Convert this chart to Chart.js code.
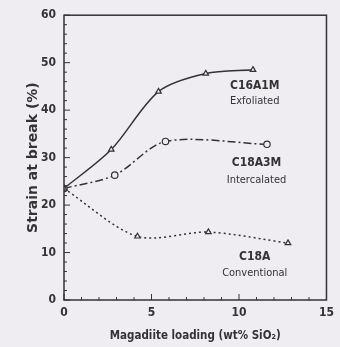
<!DOCTYPE html>
<html>
<head>
<meta charset="utf-8">
<script src="https://cdn.jsdelivr.net/npm/chart.js@4"></script>
<style>
  html, body { margin: 0; padding: 0; background: #efedf1; }
  #wrap { width: 340px; height: 347px; }
</style>
</head>
<body>
<div id="wrap"><canvas id="c"></canvas></div>
<script>
// data
const exfX = [0, 2.7, 5.4, 8.1, 10.8];
const exfY = [23.5, 31.7, 43.9, 47.7, 48.5];
const intX = [0, 2.9, 5.8, 11.6];
const intY = [23.5, 26.3, 33.4, 32.8];
const convX = [0, 4.2, 8.25, 12.8];
const convY = [23.5, 13.4, 14.3, 12.0];

const xTicks = [0, 5, 10, 15];
const yTicks = [0, 10, 20, 30, 40, 50, 60];

const notes = [
  { x: 10.9, y: 45.2, text: "C16A1M" },
  { x: 10.9, y: 41.8, text: "Exfoliated" },
  { x: 11.0, y: 28.8, text: "C18A3M" },
  { x: 11.0, y: 25.2, text: "Intercalated" },
  { x: 10.9, y: 9.0, text: "C18A" },
  { x: 10.9, y: 5.7, text: "Conventional" }
];

const FONT = "'DejaVu Sans Condensed', 'Liberation Sans', sans-serif";
const INK = "#333333";

const pts = (xs, ys) => xs.map((x, i) => ({ x, y: ys[i] }));

function series(label, xs, ys, style, dash) {
  return {
    label,
    data: pts(xs, ys),
    borderColor: INK,
    borderWidth: 1.5,
    borderDash: dash,
    tension: 0.3,
    pointStyle: style,
    pointRadius: 3.2,
    pointBorderWidth: 1.2,
    pointBorderColor: INK,
    pointBackgroundColor: "#efedf1",
    fill: false
  };
}

// box + minor ticks + curve labels
const decor = {
  id: "decor",
  afterDraw(chart) {
    const { ctx, chartArea: a, scales: { x, y } } = chart;
    ctx.save();
    ctx.strokeStyle = INK;
    ctx.lineWidth = 1.5;
    ctx.strokeRect(a.left, a.top, a.right - a.left, a.bottom - a.top);
    ctx.lineWidth = 1;
    for (let v = 0; v <= 60; v += 2) {
      const p = y.getPixelForValue(v);
      const len = v % 10 === 0 ? 6 : 3;
      ctx.beginPath(); ctx.moveTo(a.left, p); ctx.lineTo(a.left + len, p); ctx.stroke();
    }
    for (let v = 0; v <= 15; v += 1) {
      const p = x.getPixelForValue(v);
      const len = v % 5 === 0 ? 6 : 3;
      ctx.beginPath(); ctx.moveTo(p, a.bottom); ctx.lineTo(p, a.bottom - len); ctx.stroke();
    }
    ctx.fillStyle = INK;
    ctx.textAlign = "center";
    ctx.textBaseline = "middle";
    notes.forEach(n => {
      ctx.font = (n.text.startsWith("C1") ? "bold 12px " : "11px ") + FONT;
      ctx.fillText(n.text, x.getPixelForValue(n.x), y.getPixelForValue(n.y));
    });
    ctx.restore();
  }
};

new Chart(document.getElementById("c"), {
  type: "line",
  data: {
    datasets: [
      series("C16A1M", exfX, exfY, "triangle", []),
      series("C18A3M", intX, intY, "circle", [8, 3, 2, 3]),
      series("C18A", convX, convY, "triangle", [2, 3])
    ]
  },
  options: {
    responsive: true,
    maintainAspectRatio: false,
    animation: false,
    layout: { padding: { left: 0, right: 3, top: 13, bottom: 0 } },
    plugins: { legend: { display: false }, tooltip: { enabled: false } },
    scales: {
      x: {
        type: "linear",
        min: 0, max: 15,
        afterBuildTicks: s => { s.ticks = xTicks.map(v => ({ value: v })); },
        afterFit: s => { s.height = 47; },
        grid: { display: false, drawTicks: false },
        border: { display: false },
        ticks: { color: INK, padding: 6, font: { family: FONT, size: 12, weight: "bold" } },
        title: {
          display: true,
          text: "Magadiite loading (wt% SiO₂)",
          color: INK,
          padding: { top: 5 },
          font: { family: FONT, size: 11.5, weight: "bold" }
        }
      },
      y: {
        min: 0, max: 60,
        afterBuildTicks: s => { s.ticks = yTicks.map(v => ({ value: v })); },
        afterFit: s => { s.width = 64; },
        grid: { display: false, drawTicks: false },
        border: { display: false },
        ticks: { color: INK, padding: 8, font: { family: FONT, size: 12, weight: "bold" } },
        title: {
          display: true,
          text: "Strain at break (%)",
          color: INK,
          padding: { top: 25, bottom: 0 },
          font: { family: "'DejaVu Sans', sans-serif", size: 14, weight: "bold" }
        }
      }
    }
  },
  plugins: [decor]
});
</script>
</body>
</html>
